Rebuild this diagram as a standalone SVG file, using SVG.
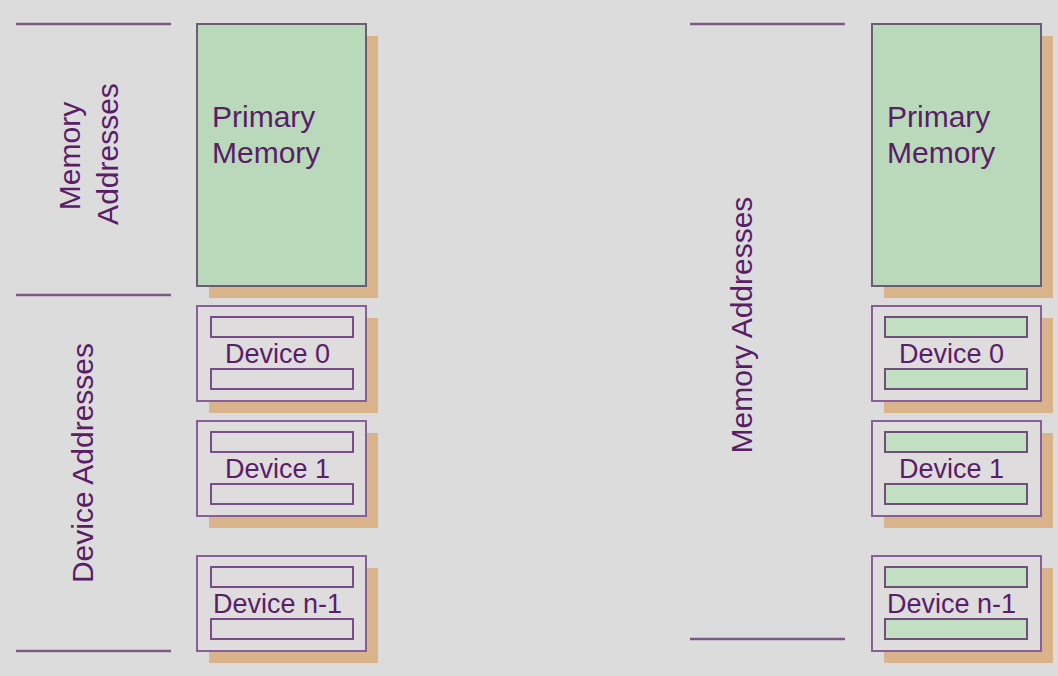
<svg xmlns="http://www.w3.org/2000/svg" width="1058" height="676" viewBox="0 0 1058 676">
<style>
.bg{fill:#dcdcdc}
.shadow{fill:#d9b48b}
.mem{fill:#b9d9ba;stroke:#6e5b78;stroke-width:2}
.dev{fill:#dedcdd;stroke:#8a5e98;stroke-width:2}
.bar{fill:#dedcdd;stroke:#7a4d8a;stroke-width:2}
.bar-g{fill:#c3dfc4;stroke:#6e5078;stroke-width:2}
.rule{stroke:#7c5a88;stroke-width:2.5;fill:none}
text{font-family:"Liberation Sans",Arial,sans-serif;fill:#5a1d68}
.big{font-size:30px}
.dl{font-size:27px}
.lbl{font-size:30px;text-anchor:middle}
</style>
<rect class="bg" x="0" y="0" width="1058" height="676"/>

<g id="rules">
<line class="rule" x1="16" y1="24" x2="171" y2="24"/>
<line class="rule" x1="16" y1="295" x2="171" y2="295"/>
<line class="rule" x1="16" y1="651" x2="171" y2="651"/>
<line class="rule" x1="690" y1="24" x2="845" y2="24"/>
<line class="rule" x1="690" y1="639" x2="845" y2="639"/>
</g>
<g id="connectors"/>

<g id="label-memory-left">
<text class="lbl" x="80" y="156" transform="rotate(-90 80 156)">Memory</text>
<text class="lbl" x="118" y="154" transform="rotate(-90 118 154)">Addresses</text>
</g>
<g id="label-device-left">
<text class="lbl" x="93" y="463" transform="rotate(-90 93 463)">Device Addresses</text>
</g>
<g id="label-memory-right">
<text class="lbl" x="752" y="325" transform="rotate(-90 752 325)">Memory Addresses</text>
</g>

<!-- Left column -->
<g id="primary-left">
<rect class="shadow" x="209" y="36" width="169" height="262"/>
<rect class="mem" x="197" y="24" width="169" height="262"/>
<text class="big" x="212" y="127">Primary</text>
<text class="big" x="212" y="163">Memory</text>
</g>
<g id="dev0-left">
<rect class="shadow" x="209" y="318" width="169" height="95"/>
<rect class="dev" x="197" y="306" width="169" height="95"/>
<rect class="bar" x="211" y="317" width="142" height="20"/>
<rect class="bar" x="211" y="369" width="142" height="20"/>
<text class="dl" x="225" y="363">Device 0</text>
</g>
<g id="dev1-left">
<rect class="shadow" x="209" y="433" width="169" height="95"/>
<rect class="dev" x="197" y="421" width="169" height="95"/>
<rect class="bar" x="211" y="432" width="142" height="20"/>
<rect class="bar" x="211" y="484" width="142" height="20"/>
<text class="dl" x="225" y="478">Device 1</text>
</g>
<g id="devn-left">
<rect class="shadow" x="209" y="568" width="169" height="95"/>
<rect class="dev" x="197" y="556" width="169" height="95"/>
<rect class="bar" x="211" y="567" width="142" height="20"/>
<rect class="bar" x="211" y="619" width="142" height="20"/>
<text class="dl" x="213" y="613">Device n-1</text>
</g>

<!-- Right column -->
<g id="primary-right">
<rect class="shadow" x="884" y="36" width="169" height="262"/>
<rect class="mem" x="872" y="24" width="169" height="262"/>
<text class="big" x="887" y="127">Primary</text>
<text class="big" x="887" y="163">Memory</text>
</g>
<g id="dev0-right">
<rect class="shadow" x="884" y="318" width="169" height="95"/>
<rect class="dev" x="872" y="306" width="169" height="95"/>
<rect class="bar-g" x="885" y="317" width="142" height="20"/>
<rect class="bar-g" x="885" y="369" width="142" height="20"/>
<text class="dl" x="899" y="363">Device 0</text>
</g>
<g id="dev1-right">
<rect class="shadow" x="884" y="433" width="169" height="95"/>
<rect class="dev" x="872" y="421" width="169" height="95"/>
<rect class="bar-g" x="885" y="432" width="142" height="20"/>
<rect class="bar-g" x="885" y="484" width="142" height="20"/>
<text class="dl" x="899" y="478">Device 1</text>
</g>
<g id="devn-right">
<rect class="shadow" x="884" y="568" width="169" height="95"/>
<rect class="dev" x="872" y="556" width="169" height="95"/>
<rect class="bar-g" x="885" y="567" width="142" height="20"/>
<rect class="bar-g" x="885" y="619" width="142" height="20"/>
<text class="dl" x="887" y="613">Device n-1</text>
</g>
</svg>
